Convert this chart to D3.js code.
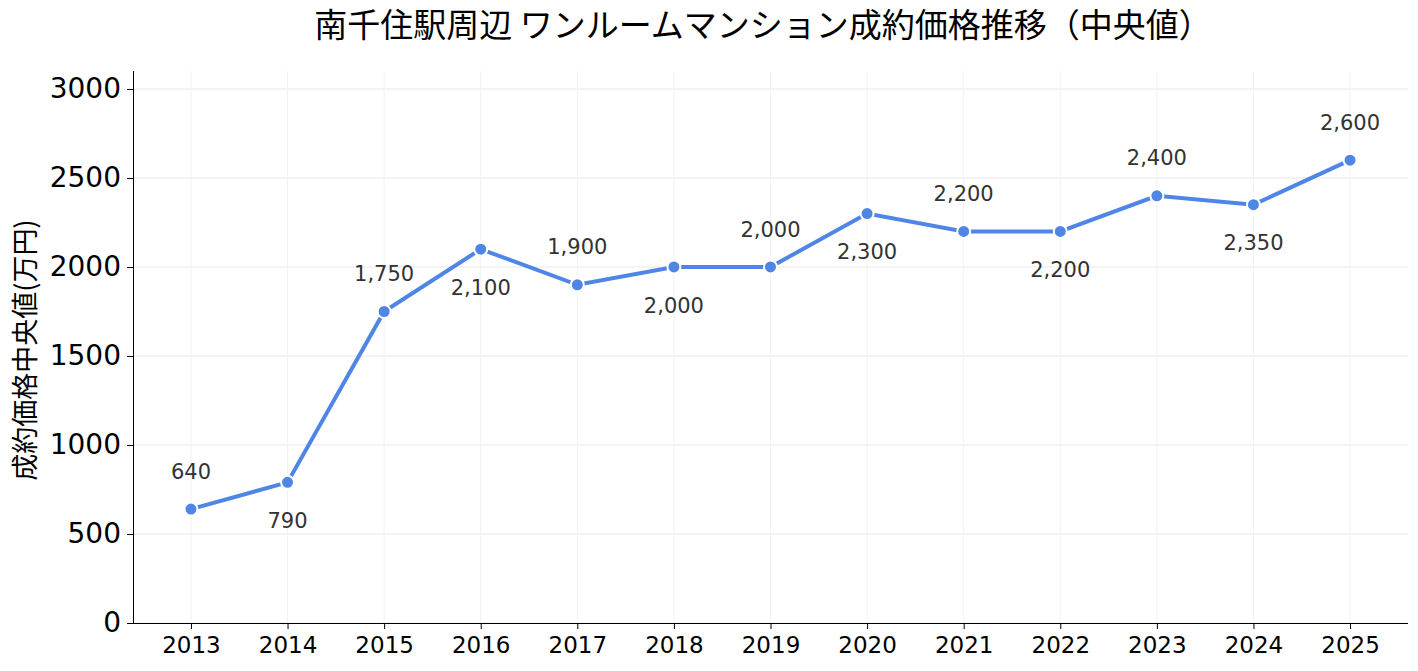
<!DOCTYPE html>
<html>
<head>
<meta charset="utf-8">
<script src="https://cdn.jsdelivr.net/npm/d3@7"></script>
<style>
body { margin: 0; background: #fff; }
text { font-family: "Noto Sans CJK JP", "Noto Sans", sans-serif; }
</style>
</head>
<body>
<svg width="1418" height="671"></svg>
<script>
var years = [2013, 2014, 2015, 2016, 2017, 2018, 2019, 2020, 2021, 2022, 2023, 2024, 2025];
var prices = [640, 790, 1750, 2100, 1900, 2000, 2000, 2300, 2200, 2200, 2400, 2350, 2600];
var yTicks = [0, 500, 1000, 1500, 2000, 2500, 3000];

var svg = d3.select("svg");
var mLeft = 133, mRight = 1408, mTop = 71, mBottom = 623;
var numFont = "'DejaVu Sans', sans-serif";

var x = d3.scaleLinear().domain([2012.4, 2025.6]).range([mLeft, mRight]);
var y = d3.scaleLinear().domain([0, 3101]).range([mBottom, mTop]);

// grid
svg.append("g").selectAll("line").data(yTicks).enter().append("line")
  .attr("x1", mLeft).attr("x2", mRight)
  .attr("y1", function(d) { return y(d); }).attr("y2", function(d) { return y(d); })
  .attr("stroke", "#e8e8e8").attr("stroke-width", 1);
svg.append("g").selectAll("line").data(years).enter().append("line")
  .attr("y1", mTop).attr("y2", mBottom)
  .attr("x1", function(d) { return x(d); }).attr("x2", function(d) { return x(d); })
  .attr("stroke", "#f2f2f2").attr("stroke-width", 1);

// axes
var ya = svg.append("g").attr("transform", "translate(" + mLeft + ",0)")
  .call(d3.axisLeft(y).tickValues(yTicks).tickSize(6).tickPadding(6).tickFormat(d3.format("d")));
var xa = svg.append("g").attr("transform", "translate(0," + mBottom + ")")
  .call(d3.axisBottom(x).tickValues(years).tickSize(6).tickPadding(8).tickFormat(d3.format("d")));
ya.select(".domain").attr("d", "M0.5," + mTop + "V" + mBottom);
xa.select(".domain").attr("d", "M" + mLeft + ",0.5H" + mRight);
ya.selectAll("text").attr("font-size", 28).attr("fill", "#000").style("font-family", numFont);
xa.selectAll("text").attr("font-size", 23).attr("fill", "#000").style("font-family", numFont);
svg.selectAll(".domain, .tick line").attr("stroke", "#000");

// line
var pts = years.map(function(d, i) { return [d, prices[i]]; });
svg.append("path").datum(pts)
  .attr("fill", "none").attr("stroke", "#4f86e6").attr("stroke-width", 4)
  .attr("d", d3.line().x(function(d) { return x(d[0]); }).y(function(d) { return y(d[1]); }));

svg.append("g").selectAll("circle").data(pts).enter().append("circle")
  .attr("cx", function(d) { return x(d[0]); })
  .attr("cy", function(d) { return y(d[1]); })
  .attr("r", 6.5)
  .attr("fill", "#4f86e6").attr("stroke", "#fff").attr("stroke-width", 2);

svg.append("g").selectAll("text").data(pts).enter().append("text")
  .attr("x", function(d) { return x(d[0]); })
  .attr("y", function(d, i) { return y(d[1]) + (i % 2 === 0 ? -38 : 38); })
  .attr("dy", "0.36em")
  .attr("text-anchor", "middle")
  .attr("font-size", 21).attr("fill", "#333")
  .style("font-family", numFont)
  .text(function(d) { return d3.format(",")(d[1]); });

// titles
svg.append("text").attr("x", 763).attr("y", 25).attr("dy", "0.35em")
  .attr("text-anchor", "middle").attr("font-size", 33).attr("fill", "#000")
  .text("南千住駅周辺 ワンルームマンション成約価格推移（中央値）");
svg.append("text").attr("transform", "translate(26," + 350 + ") rotate(-90)")
  .attr("dy", "0.35em").attr("text-anchor", "middle").attr("font-size", 27).attr("fill", "#000")
  .text("成約価格中央値(万円)");
</script>
</body>
</html>
